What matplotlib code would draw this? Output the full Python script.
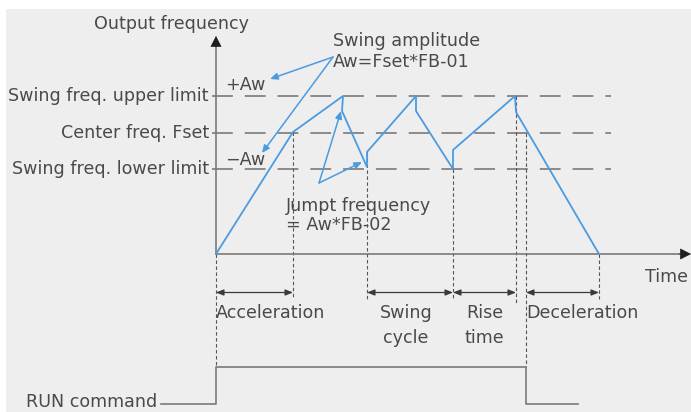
import matplotlib
matplotlib.use("Agg")
import matplotlib.pyplot as plt
from matplotlib.patches import Rectangle

plt.rcParams['font.family'] = ['DejaVu Sans']
plt.rcParams['lines.scale_dashes'] = False

# ---------------- data (diagram coordinates: time → right, frequency → down in pixels) --------------
LEVEL_LABELS = ['Swing freq. upper limit', 'Center freq. Fset', 'Swing freq. lower limit']
LEVEL_Y = [96, 133, 169]
ZERO_Y = 254
T0 = 216

WAVE_T = [216, 293, 343, 342, 367, 367, 416, 416, 453, 453, 515, 516, 599]
WAVE_F = [254, 132, 96, 111, 167, 152, 96, 111, 169, 150, 96, 112, 254]

MARK_T = [216, 293, 367, 453, 516, 526, 599]
MARK_TOP = [254, 132, 152, 169, 96, 133, 254]
MARK_BOT = [367, 298, 300, 298, 305, 367, 299]

PHASE_NAMES = ['Acceleration', 'Swing\ncycle', 'Rise\ntime', 'Deceleration']
PHASE_START = [216, 367, 453, 526]
PHASE_END = [293, 453, 516, 599]

RUN_T = [161, 216, 216, 526, 526, 578]
RUN_Y = [404, 404, 367, 367, 404, 404]

TEXT = '#4a4a4a'
BLUE = '#4b9be0'
GRAY = '#7a7a7a'

fig = plt.figure(figsize=(6.91, 4.12), dpi=100)
fig.patch.set_facecolor('white')
ax = fig.add_axes([0, 0, 1, 1])
ax.set_xlim(0, 691)
ax.set_ylim(412, 0)
ax.axis('off')
ax.add_patch(Rectangle((6, 9), 685, 403, facecolor='#eeeeee', edgecolor='none', zorder=0))

FS = 12.6

# axes
ax.plot([T0, T0], [ZERO_Y, 44], color=GRAY, lw=1.2, zorder=3)
ax.plot([T0, 683], [ZERO_Y, ZERO_Y], color=GRAY, lw=1.2, zorder=3)
ax.annotate('', xy=(T0, 36), xytext=(T0, 47),
            arrowprops=dict(arrowstyle='-|>,head_length=0.7,head_width=0.36', mutation_scale=10,
                            color='#1e1e1e', shrinkA=0, shrinkB=0, lw=0.5), zorder=4)
ax.annotate('', xy=(691, ZERO_Y), xytext=(679, ZERO_Y),
            arrowprops=dict(arrowstyle='-|>,head_length=0.7,head_width=0.36', mutation_scale=10,
                            color='#1e1e1e', shrinkA=0, shrinkB=0, lw=0.5), zorder=4)
ax.text(172, 24, 'Output frequency', fontsize=FS, color=TEXT, ha='center', va='center')
ax.text(688, 277, 'Time', fontsize=FS, color=TEXT, ha='right', va='center')

# level lines and labels
for lab, y in zip(LEVEL_LABELS, LEVEL_Y):
    ax.plot([212, 611], [y, y], color=GRAY, lw=1.2, dashes=(15, 8.6), zorder=2)
    ax.text(209, y, lab, fontsize=FS, color=TEXT, ha='right', va='center')

# vertical dashed markers
for t, top, bot in zip(MARK_T, MARK_TOP, MARK_BOT):
    ax.plot([t, t], [top, bot], color='#555555', lw=0.8, dashes=(2.5, 1.8), zorder=2)

# waveform
ax.plot(WAVE_T, WAVE_F, color=BLUE, lw=1.3, zorder=5, solid_joinstyle='miter')

# phase arrows
for name, s, e in zip(PHASE_NAMES, PHASE_START, PHASE_END):
    ax.annotate('', xy=(e, 292.5), xytext=(s, 292.5),
                arrowprops=dict(arrowstyle='<|-|>,head_length=0.45,head_width=0.18', mutation_scale=10,
                                color='#3a3a3a', shrinkA=0, shrinkB=0, lw=0.9), zorder=4)
    lines = name.split('\n')
    if len(lines) == 1:
        ax.text(s, 313, name, fontsize=FS, color=TEXT, ha='left', va='center')
    else:
        cx = (s + e) / 2 - (4 if s == 367 else 0)
        ax.text(cx, 313, lines[0], fontsize=FS, color=TEXT, ha='center', va='center')
        ax.text(cx, 338, lines[1], fontsize=FS, color=TEXT, ha='center', va='center')

# RUN command
ax.plot(RUN_T, RUN_Y, color=GRAY, lw=1.2, zorder=3)
ax.text(157, 402, 'RUN command', fontsize=FS, color=TEXT, ha='right', va='center')

# annotations
ax.text(333, 41, 'Swing amplitude', fontsize=FS, color=TEXT, ha='left', va='center')
ax.text(333, 62, 'Aw=Fset*FB-01', fontsize=FS, color=TEXT, ha='left', va='center')
ax.text(225, 85, '+Aw', fontsize=FS, color=TEXT, ha='left', va='center')
ax.text(225, 160, '\u2212Aw', fontsize=FS, color=TEXT, ha='left', va='center')
ax.text(286, 206, 'Jumpt frequency', fontsize=FS, color=TEXT, ha='left', va='center')
ax.text(286, 225, '= Aw*FB-02', fontsize=FS, color=TEXT, ha='left', va='center')

ann = dict(arrowstyle='-|>,head_length=0.45,head_width=0.2', mutation_scale=10,
           color=BLUE, shrinkA=0, shrinkB=0, lw=1.1)
for src, dst in [((333, 57), (270, 79)), ((333, 57), (262, 153)),
                 ((319, 183), (341, 111)), ((319, 183), (362, 162))]:
    ax.annotate('', xy=dst, xytext=src, arrowprops=ann, zorder=6)

fig.savefig('out.png', dpi=100, facecolor='white')
